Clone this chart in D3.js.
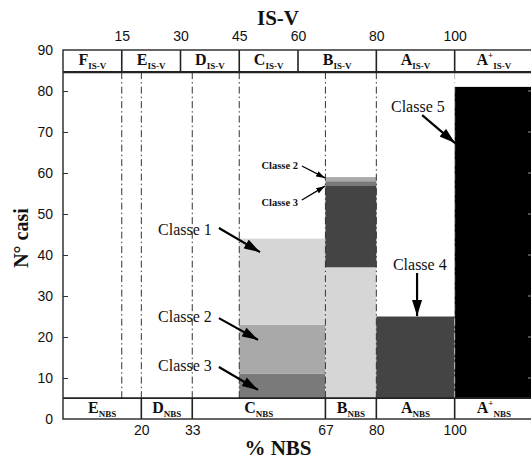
<!DOCTYPE html>
<html>
<head>
<meta charset="utf-8">
<script src="https://cdn.jsdelivr.net/npm/d3@7"></script>
<style>
  body { margin: 0; background: #fff; }
  text { fill: #111; }
</style>
</head>
<body>
<svg id="chart" width="531" height="459"></svg>
<script>
// values
const yTicks = [0, 10, 20, 30, 40, 50, 60, 70, 80, 90];
const isvTicks = [15, 30, 45, 60, 80, 100];
const nbsTicks = [20, 33, 67, 80, 100];
const guideLines = [15, 20, 33, 45, 67, 80, 100];

const isvBands = [[0, 15, "F"], [15, 30, "E"], [30, 45, "D"], [45, 60, "C"], [60, 80, "B"], [80, 100, "A"], [100, 120, "A+"]];
const nbsBands = [[0, 20, "E"], [20, 33, "D"], [33, 67, "C"], [67, 80, "B"], [80, 100, "A"], [100, 120, "A+"]];

const classColors = {
    "Classe 1": "#d6d6d6",
    "Classe 2": "#a9a9a9",
    "Classe 3": "#7a7a7a",
    "Classe 4": "#444444",
    "Classe 5": "#000000"
};

// each bar: x range and its stacked pieces, bottom to top
const barC = {x0: 45, x1: 67, parts: [["Classe 3", 11], ["Classe 2", 12], ["Classe 1", 21]]};
const barB = {x0: 67, x1: 80, parts: [["Classe 1", 37], ["Classe 4", 20], ["Classe 3", 1], ["Classe 2", 1]]};
const barA = {x0: 80, x1: 100, parts: [["Classe 4", 25]]};
const barAplus = {x0: 100, x1: 120, parts: [["Classe 5", 81]]};
const bars = [barC, barB, barA, barAplus];

// labels with arrows: text anchor point, arrow start, arrow tip (data units)
const notes = [
    {t: "Classe 1", tx: 38, ty: 44.9, anchor: "end", size: 16, a: [39.8, 46.6], b: [50.3, 40.7]},
    {t: "Classe 2", tx: 38, ty: 23.7, anchor: "end", size: 16, a: [39.8, 24.6], b: [49.8, 19.3]},
    {t: "Classe 3", tx: 38, ty: 11.7, anchor: "end", size: 16, a: [39.8, 12.7], b: [49.8, 7.1]},
    {t: "Classe 2", tx: 60, ty: 61.0, anchor: "end", size: 10.5, bold: true, a: [61.0, 61.7], b: [66.9, 58.8]},
    {t: "Classe 3", tx: 60, ty: 52.0, anchor: "end", size: 10.5, bold: true, a: [61.0, 53.4], b: [66.9, 56.8]},
    {t: "Classe 4", tx: 91.1, ty: 36.3, anchor: "middle", size: 16, a: [90.4, 35.6], b: [90.4, 25.1]},
    {t: "Classe 5", tx: 90.6, ty: 74.9, anchor: "middle", size: 16, a: [91.7, 74.1], b: [100.1, 67.3]}
];

const topBand = 84.6;   // lower edge of the IS-V class strip
const bottomBand = 5.1; // upper edge of the NBS class strip

const svg = d3.select("#chart");
const x = d3.scaleLinear().domain([0, 120]).range([63, 533]);
const y = d3.scaleLinear().domain([0, 90]).range([419, 50]);
const serif = "'Liberation Serif', 'Times New Roman', serif";
const sans = "'Liberation Sans', Arial, sans-serif";

const defs = svg.append("defs");
defs.append("marker")
    .attr("id", "head")
    .attr("markerUnits", "userSpaceOnUse")
    .attr("viewBox", "0 -5 16 10")
    .attr("refX", 16).attr("refY", 0)
    .attr("markerWidth", 17).attr("markerHeight", 10)
    .attr("orient", "auto")
    .append("path").attr("d", "M0,-5L16,0L0,5Z").attr("fill", "#000");
defs.append("marker")
    .attr("id", "headSmall")
    .attr("markerUnits", "userSpaceOnUse")
    .attr("viewBox", "0 -3 9 6")
    .attr("refX", 9).attr("refY", 0)
    .attr("markerWidth", 9).attr("markerHeight", 6)
    .attr("orient", "auto")
    .append("path").attr("d", "M0,-3L9,0L0,3Z").attr("fill", "#000");

// bars
bars.forEach(bar => {
    let base = 0;
    bar.parts.forEach(([cls, v]) => {
        svg.append("rect")
            .attr("x", x(bar.x0))
            .attr("width", x(bar.x1) - x(bar.x0))
            .attr("y", y(base + v))
            .attr("height", y(base) - y(base + v))
            .attr("fill", classColors[cls]);
        base += v;
    });
});

// dash-dot guides
svg.append("g").selectAll("line")
    .data(guideLines)
    .join("line")
    .attr("x1", d => x(d)).attr("x2", d => x(d))
    .attr("y1", y(topBand)).attr("y2", y(bottomBand))
    .attr("stroke", d => d === 100 ? "#bbb" : "#333")
    .attr("stroke-width", 1)
    .attr("stroke-dasharray", "7,3,1.5,3");

// class strips
function strip(bands, yTop, yBot, sub, yText) {
    const g = svg.append("g");
    g.append("rect")
        .attr("x", x(0)).attr("width", x(120) - x(0))
        .attr("y", y(yTop)).attr("height", y(yBot) - y(yTop))
        .attr("fill", "#fff");
    g.selectAll("line.sep")
        .data(bands.slice(1))
        .join("line")
        .attr("x1", d => x(d[0])).attr("x2", d => x(d[0]))
        .attr("y1", y(yTop)).attr("y2", y(yBot))
        .attr("stroke", "#222").attr("stroke-width", 1.6);
    const t = g.selectAll("text")
        .data(bands)
        .join("text")
        .attr("x", d => x((d[0] + d[1]) / 2))
        .attr("y", yText)
        .attr("text-anchor", "middle")
        .attr("font-family", serif)
        .attr("font-weight", "bold");
    t.append("tspan").attr("font-size", 16).text(d => d[2][0]);
    t.filter(d => d[2].length > 1).append("tspan")
        .attr("font-size", 9).attr("dy", -7).text("+");
    t.append("tspan")
        .attr("font-size", 9)
        .attr("dy", d => d[2].length > 1 ? 11 : 4)
        .text(sub);
}
strip(isvBands, 90, topBand, "IS-V", 65);
strip(nbsBands, bottomBand, 0, "NBS", 413);

// strip edges
svg.append("line")
    .attr("x1", x(0)).attr("x2", x(120))
    .attr("y1", y(topBand)).attr("y2", y(topBand))
    .attr("stroke", "#222").attr("stroke-width", 2.2);
svg.append("line")
    .attr("x1", x(0)).attr("x2", x(120))
    .attr("y1", y(bottomBand)).attr("y2", y(bottomBand))
    .attr("stroke", "#222").attr("stroke-width", 1.8);

// frame
svg.append("rect")
    .attr("x", x(0)).attr("y", y(90))
    .attr("width", x(120) - x(0)).attr("height", y(0) - y(90))
    .attr("fill", "none").attr("stroke", "#333").attr("stroke-width", 1.5);

// left axis, ticks inside
const leftAxis = svg.append("g").attr("transform", `translate(${x(0)},0)`)
    .call(d3.axisLeft(y).tickValues(yTicks).tickSize(-5).tickPadding(10));
leftAxis.select(".domain").remove();
leftAxis.selectAll("line").attr("stroke", "#333");
leftAxis.selectAll("text").attr("font-family", sans).attr("font-size", 14).attr("fill", "#333");
leftAxis.selectAll(".tick").filter(d => d === 0 || d === 90).select("line").remove();

// right side ticks (show on the black bar)
svg.append("g").selectAll("line")
    .data(yTicks.filter(d => d > 0 && d < 90))
    .join("line")
    .attr("x1", x(120) - 5).attr("x2", x(120))
    .attr("y1", d => y(d)).attr("y2", d => y(d))
    .attr("stroke", "#999");

// top IS-V axis labels
const topAxis = svg.append("g").attr("transform", `translate(0,${y(90)})`)
    .call(d3.axisTop(x).tickValues(isvTicks).tickSize(0).tickPadding(9));
topAxis.select(".domain").remove();
topAxis.selectAll("text").attr("font-family", sans).attr("font-size", 14).attr("fill", "#333");

// bottom NBS axis labels
const bottomAxis = svg.append("g").attr("transform", `translate(0,${y(0)})`)
    .call(d3.axisBottom(x).tickValues(nbsTicks).tickSize(0).tickPadding(6));
bottomAxis.select(".domain").remove();
bottomAxis.selectAll("text").attr("font-family", sans).attr("font-size", 14).attr("fill", "#333");

// titles
svg.append("text").attr("x", 278).attr("y", 25)
    .attr("text-anchor", "middle").attr("font-family", serif)
    .attr("font-weight", "bold").attr("font-size", 21).text("IS-V");
svg.append("text").attr("x", 278).attr("y", 455)
    .attr("text-anchor", "middle").attr("font-family", serif)
    .attr("font-weight", "bold").attr("font-size", 21).text("% NBS");
svg.append("text")
    .attr("transform", "translate(28,238) rotate(-90)")
    .attr("text-anchor", "middle").attr("font-family", serif)
    .attr("font-weight", "bold").attr("font-size", 20).text("N° casi");

// annotations
notes.forEach(n => {
    const big = n.size > 12;
    svg.append("text")
        .attr("x", x(n.tx)).attr("y", y(n.ty))
        .attr("text-anchor", n.anchor)
        .attr("font-family", serif)
        .attr("font-size", n.size)
        .attr("font-weight", n.bold ? "bold" : "normal")
        .text(n.t);
    svg.append("line")
        .attr("x1", x(n.a[0])).attr("y1", y(n.a[1]))
        .attr("x2", x(n.b[0])).attr("y2", y(n.b[1]))
        .attr("stroke", "#000")
        .attr("stroke-width", big ? 2.2 : 1.3)
        .attr("marker-end", big ? "url(#head)" : "url(#headSmall)");
});
</script>
</body>
</html>
